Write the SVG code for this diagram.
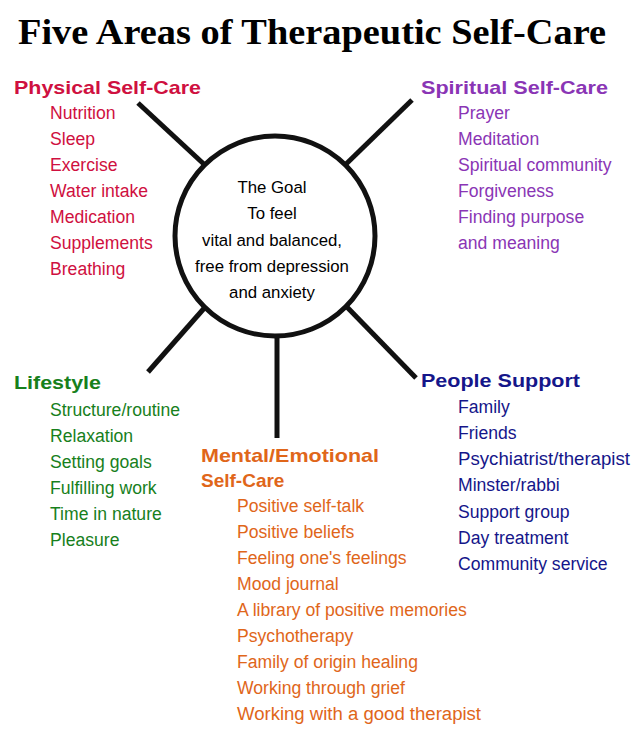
<svg xmlns="http://www.w3.org/2000/svg" width="640" height="753" viewBox="0 0 640 753">
<style>
.t{font-family:"Liberation Sans",Arial,sans-serif;font-size:17.6px}
.h{font-family:"Liberation Sans",Arial,sans-serif;font-size:19px;font-weight:bold}
.g{font-family:"Liberation Sans",Arial,sans-serif;font-size:16.8px;fill:#000}
.ph{fill:#cf1040}.sp{fill:#8a35b5}.li{fill:#17801c}.pe{fill:#15168a}.me{fill:#e0661a}
line{stroke:#111;stroke-width:5}
</style>
<rect width="640" height="753" fill="#fff"/>
<text x="312" y="44" text-anchor="middle" font-family="Liberation Serif,serif" font-size="35" font-weight="bold" textLength="588" lengthAdjust="spacingAndGlyphs">Five Areas of Therapeutic Self-Care</text>
<g id="connectors">
<line x1="138" y1="103" x2="207" y2="167"/>
<line x1="412" y1="100" x2="343" y2="167"/>
<line x1="148" y1="372" x2="207" y2="305"/>
<line x1="416" y1="378" x2="345" y2="305"/>
<line x1="277" y1="337" x2="277" y2="438"/>
</g>
<g id="goal">
<circle cx="275" cy="236" r="100" fill="#fff" stroke="#111" stroke-width="5"/>
<text class="g" x="272" y="193" text-anchor="middle" font-size="18">The Goal</text>
<text class="g" x="272" y="219" text-anchor="middle">To feel</text>
<text class="g" x="272" y="246" text-anchor="middle">vital and balanced,</text>
<text class="g" x="272" y="272" text-anchor="middle">free from depression</text>
<text class="g" x="272" y="298" text-anchor="middle">and anxiety</text>
</g>
<g id="physical">
<text class="h ph" x="14" y="94" textLength="187" lengthAdjust="spacingAndGlyphs">Physical Self-Care</text>
<text class="t ph" x="50" y="119">Nutrition</text>
<text class="t ph" x="50" y="145">Sleep</text>
<text class="t ph" x="50" y="171">Exercise</text>
<text class="t ph" x="50" y="197">Water intake</text>
<text class="t ph" x="50" y="223">Medication</text>
<text class="t ph" x="50" y="249">Supplements</text>
<text class="t ph" x="50" y="275">Breathing</text>
</g>
<g id="spiritual">
<text class="h sp" x="421" y="94" textLength="187" lengthAdjust="spacingAndGlyphs">Spiritual Self-Care</text>
<text class="t sp" x="458" y="119">Prayer</text>
<text class="t sp" x="458" y="145">Meditation</text>
<text class="t sp" x="458" y="171">Spiritual community</text>
<text class="t sp" x="458" y="197">Forgiveness</text>
<text class="t sp" x="458" y="223">Finding purpose</text>
<text class="t sp" x="458" y="249">and meaning</text>
</g>
<g id="lifestyle">
<text class="h li" x="14" y="389" textLength="87" lengthAdjust="spacingAndGlyphs">Lifestyle</text>
<text class="t li" x="50" y="416">Structure/routine</text>
<text class="t li" x="50" y="442">Relaxation</text>
<text class="t li" x="50" y="468">Setting goals</text>
<text class="t li" x="50" y="494">Fulfilling work</text>
<text class="t li" x="50" y="520">Time in nature</text>
<text class="t li" x="50" y="546">Pleasure</text>
</g>
<g id="people">
<text class="h pe" x="421" y="387" textLength="159" lengthAdjust="spacingAndGlyphs">People Support</text>
<text class="t pe" x="458" y="413">Family</text>
<text class="t pe" x="458" y="439">Friends</text>
<text class="t pe" x="458" y="465" textLength="172" lengthAdjust="spacingAndGlyphs">Psychiatrist/therapist</text>
<text class="t pe" x="458" y="491">Minster/rabbi</text>
<text class="t pe" x="458" y="518">Support group</text>
<text class="t pe" x="458" y="544">Day treatment</text>
<text class="t pe" x="458" y="570">Community service</text>
</g>
<g id="mental">
<text class="h me" x="201" y="462" textLength="178" lengthAdjust="spacingAndGlyphs">Mental/Emotional</text>
<text class="h me" x="201" y="487">Self-Care</text>
<text class="t me" x="237" y="512">Positive self-talk</text>
<text class="t me" x="237" y="538">Positive beliefs</text>
<text class="t me" x="237" y="564">Feeling one's feelings</text>
<text class="t me" x="237" y="590">Mood journal</text>
<text class="t me" x="237" y="616">A library of positive memories</text>
<text class="t me" x="237" y="642">Psychotherapy</text>
<text class="t me" x="237" y="668">Family of origin healing</text>
<text class="t me" x="237" y="694">Working through grief</text>
<text class="t me" x="237" y="720" textLength="244" lengthAdjust="spacingAndGlyphs">Working with a good therapist</text>
</g>
</svg>
